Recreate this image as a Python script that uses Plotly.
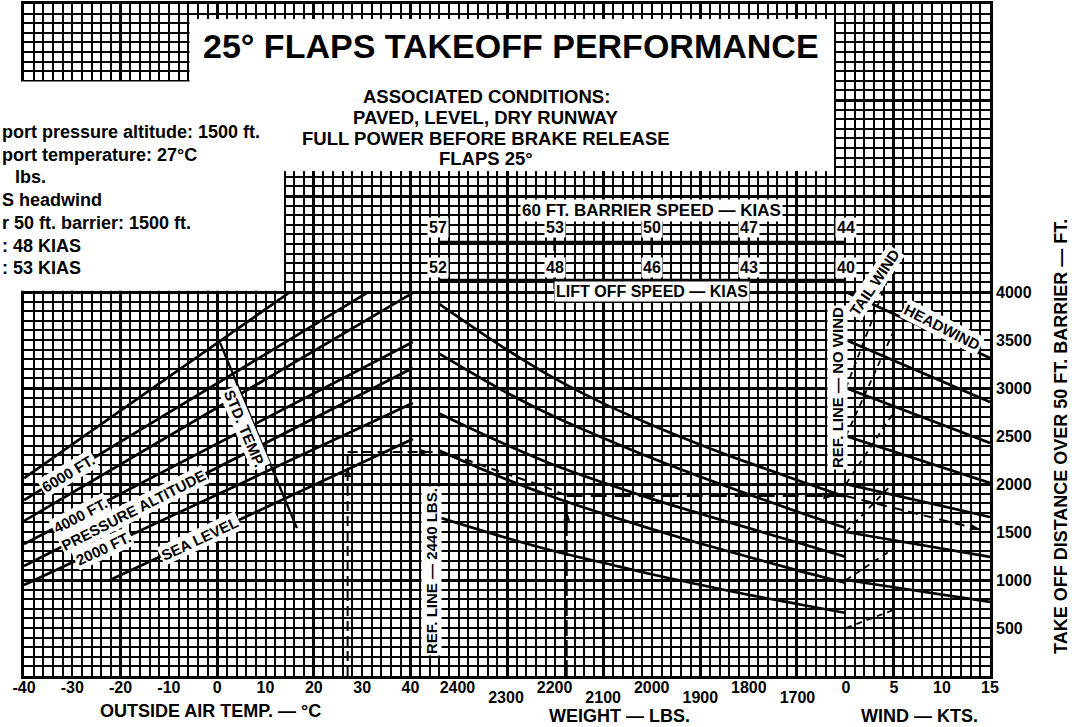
import plotly.graph_objects as go

FIG_W, FIG_H = 1072, 727

# ---------------- data ----------------
temp_ticks = [-40, -30, -20, -10, 0, 10, 20, 30, 40]
weight_ticks_upper = [2400, 2200, 2000, 1800]
weight_ticks_lower = [2300, 2100, 1900, 1700]
wind_ticks = [0, 5, 10, 15]
distance_ticks = [500, 1000, 1500, 2000, 2500, 3000, 3500, 4000]

# pressure-altitude guide lines: outside air temp (deg C) -> distance (ft)
pa_7000_temp = [-40, 15.1]
pa_7000_dist = [2062, 4000]
pa_6000_temp = [-40, 31.0]
pa_6000_dist = [1833, 3990]
pa_5000_temp = [-40, 40.5]
pa_5000_dist = [1615, 3990]
pa_4000_temp = [-40, 40.5]
pa_4000_dist = [1375, 3479]
pa_3000_temp = [-40, 40.5]
pa_3000_dist = [1146, 3208]
pa_2000_temp = [-40, 40.5]
pa_2000_dist = [948, 2844]
pa_sl_temp = [-22.2, 40.5]
pa_sl_dist = [1000, 2469]

std_temp_temp = [0.6, 16.5]
std_temp_dist = [3470, 1540]

# weight guide curves: weight (lbs) -> distance (ft)
curve_weights = [2440, 2300, 2200, 2100, 2000, 1900, 1800, 1700, 1600]
weight_curve_1 = [3885, 3405, 3100, 2840, 2615, 2410, 2220, 2040, 1865]
weight_curve_2 = [3365, 2955, 2700, 2480, 2270, 2075, 1890, 1712, 1542]
weight_curve_3 = [2740, 2410, 2195, 2015, 1845, 1690, 1540, 1390, 1240]
weight_curve_4 = [2354, 2050, 1860, 1690, 1530, 1380, 1240, 1100, 969]
weight_curve_5 = [1656, 1440, 1300, 1180, 1060, 950, 845, 750, 656]

# wind guide lines
headwind_start = [4000, 3500, 3000, 2500, 2000, 1500, 1000]
headwind_at_15kt = [3312, 2854, 2427, 2010, 1656, 1240, 771]
tailwind_start = [500, 1000, 1500, 2000, 2500, 3000]
tailwind_at_5kt = [690, 1330, 2020, 2750, 3600, 4300]

# speed scales
speed_weights = [2440, 2200, 2000, 1800, 1600]
barrier_speed_kias = [57, 53, 50, 47, 44]
liftoff_speed_kias = [52, 48, 46, 43, 40]

# worked example
ex_oat = 27
ex_pa_dist = 2333
ex_weight_path_w = [2440, 2380, 2312, 2230, 2175]
ex_weight_path_d = [2333, 2250, 2125, 1990, 1880]
ex_weight = 2175
ex_ref_dist = 1875
ex_wind_path_kts = [0, 14]
ex_wind_path_d = [1875, 1525]

example_lines = [
    "port pressure altitude: 1500 ft.",
    "port temperature: 27\u00b0C",
    " lbs.",
    "S headwind",
    "r 50 ft. barrier: 1500 ft.",
    ": 48 KIAS",
    ": 53 KIAS",
]
condition_lines = [
    "ASSOCIATED CONDITIONS:",
    "PAVED, LEVEL, DRY RUNWAY",
    "FULL POWER BEFORE BRAKE RELEASE",
    "FLAPS 25\u00b0",
]

# ---------------- geometry helpers ----------------
def px(x):
    return x / FIG_W


def py(y):
    return 1 - y / FIG_H


Y_DOM = [py(676), py(4)]
FONT = "Liberation Sans, Arial, Helvetica, sans-serif"
INK = "black"

fig = go.Figure()

# graph-paper subplot (grid only) and the overlay axis for the lower weight labels
fig.add_trace(go.Scatter(x=[None], y=[None], xaxis="x", yaxis="y", mode="lines",
                         hoverinfo="skip", showlegend=False))
fig.add_trace(go.Scatter(x=[None], y=[None], xaxis="x5", yaxis="y2", mode="lines",
                         hoverinfo="skip", showlegend=False))


def line(x, y, xa, width=2.7, dash=None, shape="linear"):
    fig.add_trace(go.Scatter(x=x, y=y, xaxis=xa, yaxis="y2", mode="lines",
                             line=dict(color=INK, width=width, dash=dash, shape=shape),
                             hoverinfo="skip", showlegend=False))


def arrow(x, y, xa, angle):
    fig.add_trace(go.Scatter(x=[x], y=[y], xaxis=xa, yaxis="y2", mode="markers",
                             marker=dict(symbol="arrow", size=11, angle=angle, color=INK),
                             hoverinfo="skip", showlegend=False))


# left panel
for t, d in [(pa_7000_temp, pa_7000_dist), (pa_6000_temp, pa_6000_dist),
             (pa_5000_temp, pa_5000_dist), (pa_4000_temp, pa_4000_dist),
             (pa_3000_temp, pa_3000_dist), (pa_2000_temp, pa_2000_dist),
             (pa_sl_temp, pa_sl_dist)]:
    line(t, d, "x2")
line(std_temp_temp, std_temp_dist, "x2", width=2.3)

# weight panel
for c in [weight_curve_1, weight_curve_2, weight_curve_3, weight_curve_4, weight_curve_5]:
    line(curve_weights, c, "x3", shape="spline")

# wind panel
for s, e in zip(headwind_start, headwind_at_15kt):
    line([0, 15], [s, e], "x4")
for s, e in zip(tailwind_start, tailwind_at_5kt):
    line([0, 5], [s, e], "x4", width=1.8, dash="6px,5px")

# speed scales
for row_ft in (4521, 4125):
    fig.add_trace(go.Scatter(x=speed_weights, y=[row_ft] * len(speed_weights), xaxis="x3", yaxis="y2",
                             mode="lines+markers", line=dict(color=INK, width=2.7),
                             marker=dict(symbol="line-ns", size=13, line=dict(color=INK, width=2.4)),
                             hoverinfo="skip", showlegend=False))

# example path
line([ex_oat, ex_oat], [0, ex_pa_dist], "x2", width=2, dash="10px,5px")
arrow(ex_oat, ex_pa_dist - 150, "x2", 0)
line([ex_oat, 45], [ex_pa_dist, ex_pa_dist], "x2", width=2, dash="10px,5px")
arrow(44, ex_pa_dist, "x2", 90)
line(ex_weight_path_w, ex_weight_path_d, "x3", width=2, dash="8px,6px")
line([ex_weight, ex_weight], [0, ex_ref_dist], "x3", width=2, dash="16px,4px")
arrow(ex_weight, ex_ref_dist - 150, "x3", 0)
line([ex_weight, 1600], [ex_ref_dist, ex_ref_dist], "x3", width=2, dash="16px,8px")
arrow(1625, ex_ref_dist, "x3", 90)
line(ex_wind_path_kts, ex_wind_path_d, "x4", width=2, dash="10px,6px")
arrow(ex_wind_path_kts[1], ex_wind_path_d[1], "x4", 104)

# ---------------- annotations ----------------
anns = []


def ann(text, x, y, xref="paper", yref="paper", size=16, angle=0, bg=None, family=FONT,
        xanchor="center", yanchor="middle"):
    d = dict(text=text, x=x, y=y, xref=xref, yref=yref, showarrow=False, textangle=angle,
             font=dict(family=family, size=size, color=INK, weight="bold"),
             xanchor=xanchor, yanchor=yanchor)
    if bg:
        d.update(bgcolor=bg, borderpad=1)
    anns.append(d)


ann("25\u00b0 FLAPS TAKEOFF PERFORMANCE", px(511), py(46), size=34)
for i, s in enumerate(condition_lines):
    ann(s, px(486), py(97 + 20.5 * i), size=18.5)
for i, s in enumerate(example_lines):
    ann(s, px(0 if i != 2 else 8), py(132 + 22.7 * i), size=18, xanchor="left")

# left-panel labels
ann("6000 FT.", -30.9, 2110, "x2", "y2", 15, -31, "white")
ann("4000 FT.", -28.4, 1677, "x2", "y2", 15, -27.5, "white")
ann("PRESSURE ALTITUDE", -17.4, 1724, "x2", "y2", 15, -27, "white")
ann("2000 FT.", -23.6, 1333, "x2", "y2", 15, -25, "white")
ann("SEA LEVEL", -3.6, 1437, "x2", "y2", 15, -25, "white")
ann("STD. TEMP.", 5.75, 2583, "x2", "y2", 15, 67, "white")
ann("REF. LINE \u2014 2440 LBS.", px(431), py(571), size=15, angle=-90, bg="white")
ann("REF. LINE \u2014 NO WIND", px(837), py(388), size=15, angle=-90, bg="white")
ann("TAIL WIND", 3.0, 4094, "x4", "y2", 15, -56, "white")
ann("HEADWIND", 10.1, 3635, "x4", "y2", 15, 27, "white")

# speed labels
ann("60 FT. BARRIER SPEED \u2014 KIAS", 2000, 4854, "x3", "y2", 17, 0, "white")
ann("LIFT OFF SPEED \u2014 KIAS", 2000, 4000, "x3", "y2", 16, 0, "white")
for w, b, l in zip(speed_weights, barrier_speed_kias, liftoff_speed_kias):
    ann(str(b), w, 4667, "x3", "y2", 16, 0, "white")
    ann(str(l), w, 4260, "x3", "y2", 16, 0, "white")

# axis titles
ann("OUTSIDE AIR TEMP. \u2014 \u00b0C", px(210), py(711), size=18)
ann("WEIGHT \u2014 LBS.", px(619), py(716), size=18)
ann("WIND \u2014 KTS.", px(919), py(716), size=18)
ann("TAKE OFF DISTANCE OVER 50 FT. BARRIER \u2014 FT.", px(1061), py(437), size=18, angle=-90)

# ---------------- axes ----------------
tickfont = dict(family=FONT, size=16, color=INK, weight="bold")
grid_major = dict(showgrid=True, gridcolor=INK, gridwidth=2.6)
grid_minor = dict(showgrid=True, gridcolor=INK, gridwidth=1.8)
common = dict(automargin=False, zeroline=False)

fig.update_layout(
    width=FIG_W, height=FIG_H, autosize=False, margin=dict(l=0, r=0, t=0, b=0, pad=0),
    paper_bgcolor="white", plot_bgcolor="rgba(0,0,0,0)", showlegend=False,
    xaxis=dict(domain=[px(24), px(990)], range=[-40, 160], anchor="y", tick0=0, dtick=20,
               minor=dict(dtick=2, **grid_minor), **grid_major, showticklabels=False, ticks="",
               showline=True, mirror=True, linecolor=INK, linewidth=2.6, **common),
    yaxis=dict(domain=Y_DOM, range=[0, 7000], anchor="x", tick0=0, dtick=1000,
               minor=dict(dtick=100, **grid_minor), **grid_major, showticklabels=False, ticks="",
               showline=True, mirror=True, linecolor=INK, linewidth=2.6, **common),
    xaxis2=dict(domain=[px(24), px(438)], range=[-40, 45.71], anchor="y2", showgrid=False,
                tickvals=temp_ticks, ticktext=[str(v) for v in temp_ticks],
                ticks="", ticklabelstandoff=0, tickfont=tickfont, **common),
    xaxis3=dict(domain=[px(438), px(846)], range=[2440, 1600], anchor="y2", showgrid=False,
                tickvals=weight_ticks_upper, ticks="", ticklabelstandoff=0,
                tickfont=tickfont, **common),
    xaxis5=dict(domain=[px(438), px(846)], range=[2440, 1600], anchor="y2", overlaying="x3",
                showgrid=False, tickvals=weight_ticks_lower, ticks="",
                ticklabelstandoff=10, tickfont=tickfont, **common),
    xaxis4=dict(domain=[px(846), px(990)], range=[0, 15], anchor="y2", showgrid=False,
                tickvals=wind_ticks, ticks="", ticklabelstandoff=0, tickfont=tickfont, **common),
    yaxis2=dict(domain=Y_DOM, range=[0, 7000], anchor="x4", side="right", showgrid=False,
                tickvals=distance_ticks, ticks="", ticklabelstandoff=5,
                tickfont=tickfont, **common),
    annotations=anns,
    shapes=[
        dict(type="rect", xref="paper", yref="paper", x0=px(-5), x1=px(284), y0=py(81.5), y1=py(290.8),
             fillcolor="white", line=dict(width=0), layer="above"),
        dict(type="rect", xref="paper", yref="paper", x0=px(189.5), x1=px(834), y0=py(19), y1=py(171),
             fillcolor="white", line=dict(width=0), layer="above"),
    ],
)

fig.write_html("out.html", config={"responsive": False, "displayModeBar": False},
               post_script="document.body.style.margin='0px';")
